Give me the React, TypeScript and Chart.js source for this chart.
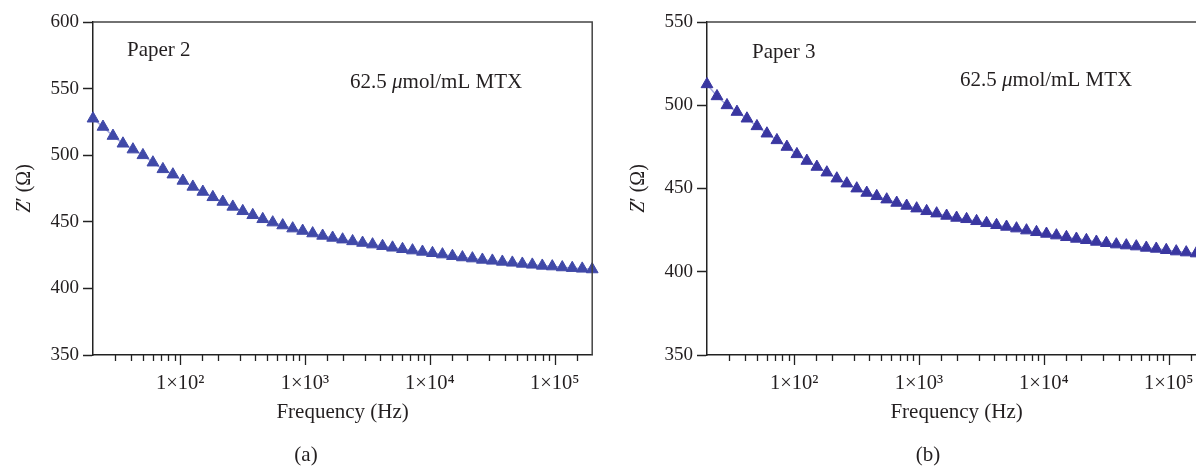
import React, { useEffect, useRef } from 'react';
import { Chart, registerables } from 'chart.js';

Chart.register(...registerables);

// Frequency sweep (Hz) (uniform on the log axis)
const frequencies = [
  20, 24.05, 28.91, 34.76, 41.79, 50.24, 60.41, 72.63, 87.32, 105.0,
  126.2, 151.8, 182.5, 219.4, 263.8, 317.0, 381.2, 458.3, 551.0, 662.5,
  796.2, 957.3, 1151, 1384, 1664, 2000, 2405, 2891, 3476, 4179,
  5024, 6041, 7263, 8732, 10499, 12619, 15172, 18241, 21932, 26368,
  31698, 38111, 45822, 55091, 66237, 79621, 95730, 115093, 138374, 166369,
  200000,
];

// Z' (Ohm) for Paper 2, panel (a)
const zPaper2 = [
  527.5, 521.3, 514.5, 508.7, 504.3, 500.0, 494.5, 489.5, 485.5, 480.8,
  476.3, 472.5, 468.5, 465.0, 461.3, 458.0, 455.0, 452.0, 449.5, 447.3,
  445.0, 443.2, 441.3, 439.5, 438.0, 436.7, 435.4, 434.2, 433.0, 431.8,
  430.6, 429.5, 428.5, 427.5, 426.5, 425.5, 424.3, 423.3, 422.5, 421.5,
  420.8, 420.0, 419.3, 418.5, 417.8, 417.0, 416.5, 415.8, 415.3, 414.8,
  414.3,
];

// Z' (Ohm) for Paper 3, panel (b)
const zPaper3 = [
  512.6, 505.4, 500.0, 496.0, 492.0, 487.4, 483.0, 479.0, 475.0, 470.6,
  466.6, 463.0, 459.6, 456.0, 453.0, 450.0, 447.4, 445.4, 443.4, 441.4,
  439.6, 438.0, 436.4, 435.0, 433.6, 432.4, 431.6, 430.4, 429.2, 428.0,
  427.0, 426.0, 424.8, 423.8, 422.8, 421.8, 420.8, 419.8, 419.0, 418.0,
  417.2, 416.4, 415.8, 415.2, 414.4, 413.8, 413.0, 412.2, 411.6, 411.0,
  410.5,
];

const xMin = 20;
const xMax = 200000;
const supDigits = ['⁰', '¹', '²', '³', '⁴', '⁵', '⁶', '⁷', '⁸', '⁹'];
const panelCaptions = ['(a)', '(b)'];
const paperLabels = ['Paper 2', 'Paper 3'];
const concentrationLabel = ['62.5 ', 'μ', 'mol/mL MTX'];
const yTitleParts = ['Z', '′ (Ω)'];
const xTitle = 'Frequency (Hz)';
const yRangesA = [350, 600];
const yRangesB = [350, 550];

const FONT = '"Liberation Serif", "DejaVu Serif", serif';
const TEXT = '#231f20';

function isPow10(v: number) {
  const l = Math.log10(v);
  return Math.abs(l - Math.round(l)) < 1e-9;
}

type PanelProps = {
  left: number;
  values: number[];
  yRange: number[];
  color: string;
  lineColor: string;
  paper: string;
  caption: string;
  paperPos: [number, number];
  concPos: [number, number];
  captionX: number;
};

function Panel(p: PanelProps) {
  const ref = useRef<HTMLCanvasElement>(null);
  useEffect(() => {
    const decor = {
      id: 'decor',
      afterDraw(chart: any) {
        const { ctx, chartArea } = chart;
        const xs = chart.scales.x;
        ctx.save();
        // frame: top and right
        ctx.strokeStyle = '#444';
        ctx.lineWidth = 1.5;
        ctx.beginPath();
        ctx.moveTo(chartArea.left, chartArea.top);
        ctx.lineTo(chartArea.right, chartArea.top);
        ctx.lineTo(chartArea.right, chartArea.bottom);
        ctx.stroke();
        // x tick marks (major longer, minor shorter)
        ctx.strokeStyle = '#222';
        ctx.lineWidth = 1.3;
        ctx.beginPath();
        xs.ticks.forEach((t: any) => {
          if (t.value <= xs.min || t.value >= xs.max) return;
          const px = Math.round(xs.getPixelForValue(t.value)) + 0.5;
          const len = isPow10(t.value) ? 10 : 6;
          ctx.moveTo(px, chartArea.bottom);
          ctx.lineTo(px, chartArea.bottom + len);
        });
        ctx.stroke();
        // annotations
        ctx.fillStyle = TEXT;
        ctx.textBaseline = 'middle';
        ctx.textAlign = 'left';
        ctx.font = `21px ${FONT}`;
        ctx.fillText(p.paper, chartArea.left + p.paperPos[0], p.paperPos[1]);
        let x = chartArea.left + p.concPos[0];
        const y = p.concPos[1];
        concentrationLabel.forEach((s, i) => {
          ctx.font = i === 1 ? `italic 21px ${FONT}` : `21px ${FONT}`;
          ctx.fillText(s, x, y);
          x += ctx.measureText(s).width;
        });
        // y-axis title with italic Z
        ctx.save();
        ctx.translate(25, (chartArea.top + chartArea.bottom) / 2);
        ctx.rotate(-Math.PI / 2);
        ctx.font = `italic 20px ${FONT}`;
        const w0 = ctx.measureText(yTitleParts[0]).width;
        ctx.font = `20px ${FONT}`;
        const w1 = ctx.measureText(yTitleParts[1]).width;
        let tx = -(w0 + w1) / 2;
        ctx.font = `italic 20px ${FONT}`;
        ctx.fillText(yTitleParts[0], tx, 0);
        tx += w0;
        ctx.font = `20px ${FONT}`;
        ctx.fillText(yTitleParts[1], tx, 0);
        ctx.restore();
        // caption
        ctx.font = `21px ${FONT}`;
        ctx.textAlign = 'center';
        ctx.fillText(p.caption, p.captionX, 455);
        ctx.restore();
      },
    };

    const chart = new Chart(ref.current as HTMLCanvasElement, {
      type: 'scatter',
      data: {
        datasets: [
          {
            data: frequencies.map((f, i) => ({ x: f, y: p.values[i] })),
            showLine: true,
            borderColor: p.lineColor,
            borderWidth: 1.5,
            pointStyle: 'triangle',
            pointRadius: 6.8,
            pointBorderWidth: 1,
            pointBackgroundColor: p.color,
            pointBorderColor: p.color,
            clip: false,
          } as any,
        ],
      },
      options: {
        responsive: false,
        animation: false,
        events: [],
        layout: { padding: { left: 0, right: 6, top: 22, bottom: 0 } },
        plugins: { legend: { display: false }, tooltip: { enabled: false } },
        scales: {
          x: {
            type: 'logarithmic',
            min: xMin,
            max: xMax,
            afterFit: (s: any) => {
              s.height = 111;
              s.paddingLeft = 0;
              s.paddingRight = 0;
            },
            border: { display: true, color: '#222', width: 1.5 },
            grid: { drawOnChartArea: false, drawTicks: false },
            ticks: {
              autoSkip: false,
              maxRotation: 0,
              padding: 16,
              color: TEXT,
              font: { family: FONT, size: 20.5 },
              callback: (v: any) => {
                const n = Number(v);
                if (!isPow10(n)) return '';
                return '1×10' + supDigits[Math.round(Math.log10(n))];
              },
            },
            title: {
              display: true,
              text: xTitle,
              color: TEXT,
              font: { family: FONT, size: 21 },
              padding: { top: 0, bottom: 41 },
            },
          },
          y: {
            min: p.yRange[0],
            max: p.yRange[1],
            afterFit: (s: any) => {
              s.width = 93;
            },
            border: { display: true, color: '#222', width: 1.5 },
            grid: {
              drawOnChartArea: false,
              drawTicks: true,
              tickLength: 10,
              tickColor: '#222',
              tickWidth: 1.5,
            },
            ticks: {
              stepSize: 50,
              padding: 4,
              color: TEXT,
              font: { family: FONT, size: 19 },
            },
            title: { display: false },
          },
        },
      },
      plugins: [decor],
    });
    return () => chart.destroy();
  }, []);
  return (
    <canvas
      ref={ref}
      width={600}
      height={466}
      style={{ position: 'absolute', left: p.left, top: 0, width: 600, height: 466 }}
    />
  );
}

export default function App() {
  return (
    <div
      style={{
        position: 'fixed',
        left: 0,
        top: 0,
        width: 1196,
        height: 466,
        overflow: 'hidden',
        background: '#fff',
      }}
    >
      <Panel
        left={0}
        values={zPaper2}
        yRange={yRangesA}
        color="#4049A8"
        lineColor="#A4A8E0"
        paper={paperLabels[0]}
        caption={panelCaptions[0]}
        paperPos={[34, 50]}
        concPos={[257, 82]}
        captionX={306}
      />
      <Panel
        left={614}
        values={zPaper3}
        yRange={yRangesB}
        color="#3A37A1"
        lineColor="#A4A8E0"
        paper={paperLabels[1]}
        caption={panelCaptions[1]}
        paperPos={[45, 52]}
        concPos={[253, 80]}
        captionX={314}
      />
    </div>
  );
}
